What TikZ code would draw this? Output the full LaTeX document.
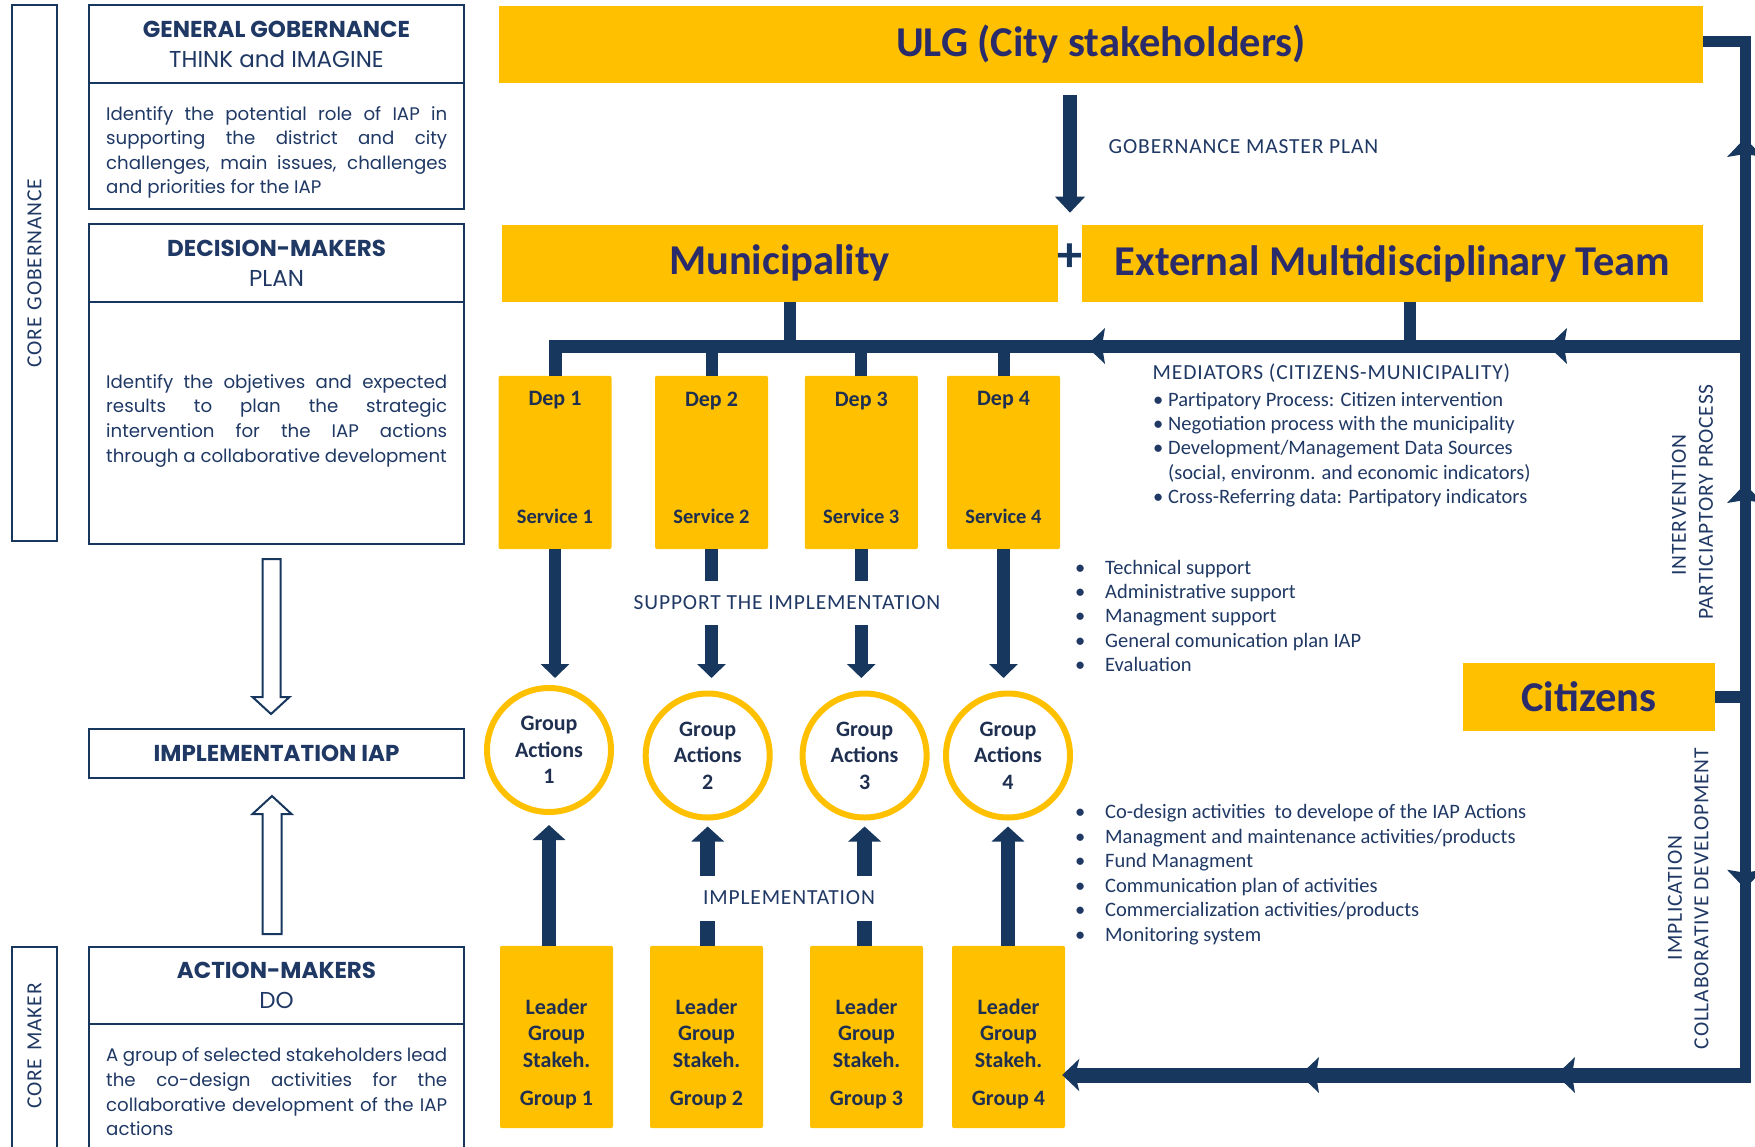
\documentclass[tikz,border=0pt]{standalone}
\usepackage{fontspec}
\setmainfont{Carlito}
\newfontfamily\gothic{Poppins}
\newfontfamily\capsfont[LetterSpace=4]{Carlito}
\usetikzlibrary{arrows.meta,calc}
\definecolor{navy}{HTML}{17375E}
\definecolor{gold}{HTML}{FFC000}
\definecolor{ink}{HTML}{2A2B6B}
\definecolor{txt}{HTML}{1F3864}
\definecolor{boxtxt}{HTML}{1F2F50}
\tikzset{
  lhead/.pic={\fill[navy] (0,0) -- (19,-18) -- (16,0) -- (19,18) -- cycle;},
}
\begin{document}
\begin{tikzpicture}[x=1pt,y=-1pt,
  gbox/.style={rectangle, fill=gold, draw=none, inner sep=0pt},
  lbox/.style={rectangle, draw=navy, line width=2pt, fill=white, inner sep=0pt},
  big/.style={font=\fontsize{42.5}{48}\selectfont\bfseries, text=ink},
  lab/.style={font=\fontsize{20.5}{24.5}\selectfont, text=txt, inner sep=0pt},
  caps/.style={font=\capsfont\fontsize{21.5}{24.5}\selectfont, text=txt, inner sep=0pt},
  small/.style={font=\fontsize{22}{26.5}\selectfont\bfseries, text=boxtxt, align=center, inner sep=0pt},
  gcirc/.style={small, circle, draw=gold, line width=6pt, fill=white, minimum size=124pt},
  gtitle/.style={font=\gothic\fontsize{23}{30}\selectfont, text=txt, align=center},
  gbody/.style={font=\gothic\fontsize{18.2}{24.5}\selectfont, text=txt, inner sep=0pt, anchor=base west},
  wire/.style={draw=navy, line join=miter},
  darrow/.style={wire, line width=12.5pt, -{Triangle[length=14pt,width=28pt]}},
  uarrow/.style={wire, line width=14.5pt, -{Triangle[length=15pt,width=32pt]}},
  hollow/.style={draw=navy, line width=2pt, fill=white, line join=miter},
]
\useasboundingbox (0,0) rectangle (1755,1146);
\clip (0,0) rectangle (1755,1146);

% ---------------- left column ----------------
\node[lbox, minimum width=44.4pt, minimum height=535.6pt] (CoreG) at (34.5,273.2) {};
\node[caps, rotate=90] (CoreGt) at (CoreG.center) {CORE\hspace{7pt}GOBERNANCE};
\node[lbox, minimum width=45pt, minimum height=223pt] (CoreM) at (34.5,1058.5) {};
\node[caps, rotate=90] (CoreMt) at (34.5,1046) {CORE\hspace{8pt}MAKER};

\node[lbox, gtitle, minimum width=375pt, minimum height=77.5pt] (GenH) at (276.5,44.15)
  {{\bfseries GENERAL GOBERNANCE}\\THINK and IMAGINE};
\node[lbox, minimum width=375pt, minimum height=126.1pt] (GenB) at (276.5,146) {};
\node[gbody] (gb1) at (106,120) {\makebox[341pt][s]{Identify the potential role of IAP in}};
\node[gbody] (gb2) at (106,144.5) {\makebox[341pt][s]{supporting the district and city}};
\node[gbody] (gb3) at (106,169) {\makebox[341pt][s]{challenges, main issues, challenges}};
\node[gbody] (gb4) at (106,193.5) {and priorities for the IAP};

\node[lbox, gtitle, minimum width=375pt, minimum height=77.8pt] (DecH) at (276.5,262.9)
  {{\bfseries DECISION-MAKERS}\\PLAN};
\node[lbox, minimum width=375pt, minimum height=241.8pt] (DecB) at (276.5,422.7) {};
\node[gbody] (db1) at (106,388) {\makebox[341pt][s]{Identify the objetives and expected}};
\node[gbody] (db2) at (106,412.7) {\makebox[341pt][s]{results to plan the strategic}};
\node[gbody] (db3) at (106,437.4) {\makebox[341pt][s]{intervention for the IAP actions}};
\node[gbody] (db4) at (106,462) {through a collaborative development};

\node[lbox, gtitle, minimum width=375pt, minimum height=49.4pt] (Impl) at (276.5,753.3)
  {\bfseries IMPLEMENTATION IAP};

\node[lbox, gtitle, minimum width=375pt, minimum height=77pt] (ActH) at (276.5,985.5)
  {{\bfseries ACTION-MAKERS}\\DO};
\node[lbox, minimum width=375pt, minimum height=146pt] (ActB) at (276.5,1097) {};
\node[gbody] (ab1) at (106,1061.5) {\makebox[341pt][s]{A group of selected stakeholders lead}};
\node[gbody] (ab2) at (106,1086.3) {\makebox[341pt][s]{the co-design activities for the}};
\node[gbody] (ab3) at (106,1111) {\makebox[341pt][s]{collaborative development of the IAP}};
\node[gbody] (ab4) at (106,1135.8) {actions};

% hollow arrows
\draw[hollow] ($(DecB.south)+(-14,14.4)$) -- ($(Impl.north)+(-14,-30.6)$)
  -- ($(Impl.north)+(-24,-30.6)$) -- ($(Impl.north)+(-5.5,-13.6)$)
  -- ($(Impl.north)+(13,-30.6)$) -- ($(Impl.north)+(4,-30.6)$)
  -- ($(DecB.south)+(4,14.4)$) -- cycle;
\draw[hollow] ($(ActH.north)+(-14,-12)$) -- ($(Impl.south)+(-14,35)$)
  -- ($(Impl.south)+(-24,35)$) -- ($(Impl.south)+(-4.5,17)$)
  -- ($(Impl.south)+(15,35)$) -- ($(Impl.south)+(5,35)$)
  -- ($(ActH.north)+(5,-12)$) -- cycle;

% ---------------- top boxes ----------------
\node[gbox, big, minimum width=1204pt, minimum height=77pt] (ULG) at (1101,44.5) {ULG (City stakeholders)};
\node[gbox, big, minimum width=556pt, minimum height=77pt] (Muni) at (779.5,263.4) {Municipality};
\node[gbox, big, minimum width=621pt, minimum height=77pt] (Ext) at (1392.5,263.4) {External Multidisciplinary Team};
\node[font=\fontsize{50}{50}\selectfont\bfseries, text=navy, inner sep=0pt] (Plus) at (1070,258) {+};
\node[caps, anchor=west] (GMP) at (1108.5,147) {GOBERNANCE MASTER PLAN};

\coordinate (R) at (1745,346);
\coordinate (Bot) at (1745,1075);

\draw[wire, line width=14pt, -{Triangle[length=16pt,width=29pt]}, shorten <=12pt, shorten >=12pt]
  (ULG.south -| Plus) -- (Muni.north -| Plus);

% ---------------- departments ----------------
\foreach \n/\x in {1/555,2/711.5,3/861.3,4/1003.5}{
  \node[gbox, rounded corners=2pt, minimum width=113pt, minimum height=173.3pt] (Dep\n) at (\x,462.4) {};
  \node[small] (Dept\n) at ($(Dep\n.north)+(0,25)$) {Dep \n};
  \node[small, font=\fontsize{20.5}{24}\selectfont\bfseries] (Sert\n) at ($(Dep\n.south)+(0,-33)$) {Service \n};
}
\foreach \n/\x/\y in {1/549/750,2/707.7/755.5,3/864.6/755.5,4/1008/755.5}{
  \node[gcirc] (GA\n) at (\x,\y) {Group\\Actions\\\n};
}
\foreach \n/\x in {1/556.5,2/706.5,3/866.5,4/1008.5}{
  \node[gbox, rounded corners=2pt, minimum width=113pt, minimum height=182.3pt] (LG\n) at (\x,1036.9) {};
  \node[small, anchor=north] (LGt\n) at ($(LG\n.north)+(0,53)$) {Leader\\Group\\Stakeh.\\[12pt]Group \n};
}

\node[gbox, big, minimum width=252pt, minimum height=68pt] (Cit) at (1589,696.7) {Citizens};

% bus and wires
\draw[wire, line width=13pt] (Dep1.north) |- (R);
\draw[wire, line width=12pt] ([xshift=10.5pt]Muni.south) -- ([xshift=10.5pt]Muni.south |- R);
\draw[wire, line width=12pt] ([xshift=17pt]Ext.south) -- ([xshift=17pt]Ext.south |- R);
\foreach \n in {2,3,4}{\draw[wire, line width=12pt] (Dep\n.north) -- (Dep\n.north |- R);}
\draw[wire, line width=11pt] ([yshift=3.5pt]ULG.east) -| (Bot);
\draw[wire, line width=12pt] (Cit.east) -- (Cit.east -| Bot);
\draw[wire, line width=15pt, -{Stealth[length=17pt,width=32pt,inset=4pt]}, shorten >=-3pt]
  ([xshift=5.5pt]Bot) -- (Bot -| LG4.east);

\pic at ($(R)+(-659,0)$) {lhead};
\pic at ($(R)+(-197,0)$) {lhead};
\pic at ($(Bot)+(-445,0)$) {lhead};
\pic at ($(Bot)+(-189,0)$) {lhead};
\pic[rotate=-90] at ($(R)+(0,-208)$) {lhead};
\pic[rotate=-90] at ($(R)+(0,138)$) {lhead};
\pic[rotate=90] at ($(Bot)+(0,-186.3)$) {lhead};

% arrows dep -> group, leader -> group
\draw[darrow, shorten >=7pt] (Dep1.south) -- (Dep1.south |- GA1.north);
\foreach \n in {2,3,4}{\draw[darrow, shorten >=12.5pt] (Dep\n.south) -- (Dep\n.south |- GA\n.north);}
\draw[uarrow, shorten >=10pt] (LG1.north -| GA1.south) -- (GA1.south);
\foreach \n in {2,3,4}{\draw[uarrow, shorten >=6pt] (LG\n.north -| GA\n.south) -- (GA\n.south);}

\node[caps, fill=white, minimum height=44pt, inner xsep=5pt] (SupT) at (787,603) {SUPPORT THE IMPLEMENTATION};
\node[caps, fill=white, minimum height=45pt, inner xsep=6pt] (ImpT) at (789,898) {IMPLEMENTATION};

% ---------------- right texts ----------------
\node[caps, anchor=base west] (Med) at (1152.5,379) {MEDIATORS (CITIZENS-MUNICIPALITY)};
\foreach \t [count=\i] in {Partipatory Process: Citizen intervention, Negotiation process with the municipality, Development/Management Data Sources, {(social, environm. and economic indicators)}, Cross-Referring data: Partipatory indicators}
  {\node[lab, anchor=base west] (md\i) at (1168,{406+24.4*(\i-1)}) {\t};}
\foreach \i in {1,2,3,5}
  {\node[lab, anchor=base west] (mb\i) at (1153,{406+24.4*(\i-1)}) {\textbullet};}

\foreach \t [count=\i] in {Technical support, Administrative support, Managment support, General comunication plan IAP, Evaluation}
  {\node[lab, anchor=base west] (sa\i) at (1105,{574+24.4*(\i-1)}) {\t};
   \node[lab, anchor=base west] (sb\i) at (1075,{574+24.4*(\i-1)}) {\textbullet};}

\foreach \t [count=\i] in {Co-design activities\ \ to develope of the IAP Actions, Managment and maintenance activities/products, Fund Managment, Communication plan of activities, Commercialization activities/products, Monitoring system}
  {\node[lab, anchor=base west] (ca\i) at (1105,{818.5+24.5*(\i-1)}) {\t};
   \node[lab, anchor=base west] (cb\i) at (1075,{818.5+24.5*(\i-1)}) {\textbullet};}

\node[caps, rotate=90] (IntT) at (1679,505) {INTERVENTION};
\node[caps, rotate=90] (ParT) at (1706,502) {PARTICIAPTORY\hspace{6pt}PROCESS};
\node[caps, rotate=90] (ImpL) at (1675,898) {IMPLICATION};
\node[caps, rotate=90] (ColT) at (1701.5,898.5) {COLLABORATIVE DEVELOPMENT};
\end{tikzpicture}
\end{document}
